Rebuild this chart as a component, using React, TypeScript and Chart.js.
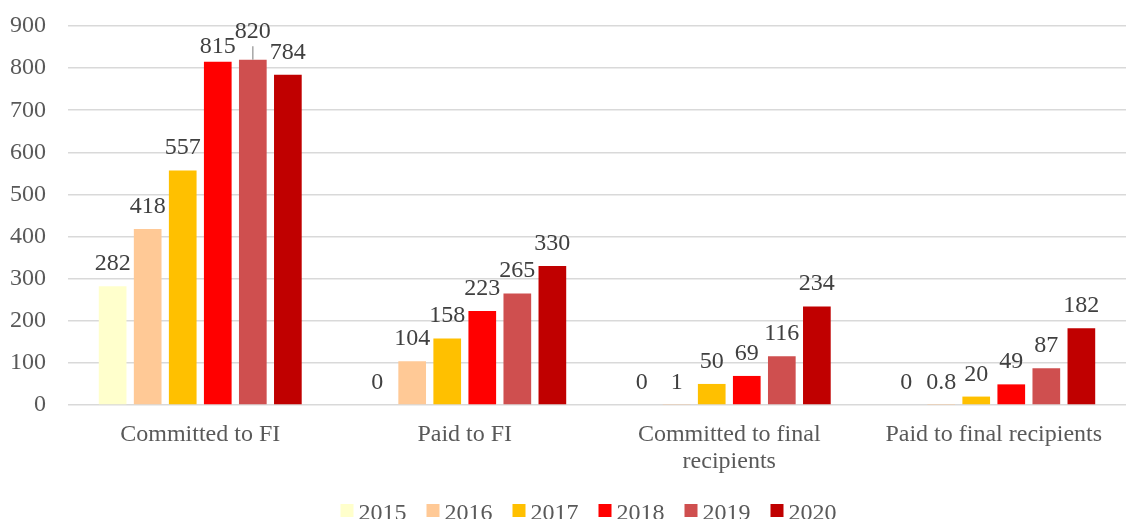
import React, { useEffect, useRef } from "react";
import { Chart, registerables } from "chart.js";

Chart.register(...registerables);

const categories: (string | string[])[] = [
  "Committed to FI",
  "Paid to FI",
  ["Committed to final", "recipients"],
  "Paid to final recipients",
];

const years = ["2015", "2016", "2017", "2018", "2019", "2020"];

const values2015 = [282, 0, 0, 0];
const values2016 = [418, 104, 1, 0.8];
const values2017 = [557, 158, 50, 20];
const values2018 = [815, 223, 69, 49];
const values2019 = [820, 265, 116, 87];
const values2020 = [784, 330, 234, 182];

const seriesValues = [values2015, values2016, values2017, values2018, values2019, values2020];
const seriesColors = ["#FFFFCC", "#FFC996", "#FFC000", "#FF0000", "#CF4F4F", "#C00000"];

const yTicks = [0, 100, 200, 300, 400, 500, 600, 700, 800, 900];

const FONT = "'Liberation Serif', 'Times New Roman', serif";

const valueLabelPlugin = {
  id: "valueLabels",
  afterDatasetsDraw(chart: any, _args: any, opts: any) {
    const ctx = chart.ctx;
    ctx.save();
    ctx.font = `${opts.size}px ${FONT}`;
    ctx.fillStyle = opts.color;
    ctx.textAlign = "center";
    ctx.textBaseline = "alphabetic";
    chart.data.datasets.forEach((ds: any, di: number) => {
      const meta = chart.getDatasetMeta(di);
      meta.data.forEach((bar: any, i: number) => {
        const v = ds.data[i];
        const adj = (opts.adjust || []).find((a: any) => a.datasetIndex === di && a.index === i);
        const extra = adj ? adj.extra : 0;
        const y = bar.y - opts.gap - extra;
        ctx.fillText(String(v), bar.x, y);
        if (adj && adj.leader) {
          ctx.save();
          ctx.strokeStyle = "#A6A6A6";
          ctx.lineWidth = 1.5;
          ctx.beginPath();
          ctx.moveTo(bar.x, y + 8);
          ctx.lineTo(bar.x, bar.y);
          ctx.stroke();
          ctx.restore();
        }
      });
    });
    ctx.restore();
  },
};

// shifts the legend sideways and paints its colour boxes closer to the text
const legendTweakPlugin = {
  id: "legendTweak",
  afterLayout(chart: any, _args: any, opts: any) {
    const l = chart.legend;
    if (l) {
      l.left += opts.dx;
      l.right += opts.dx;
    }
  },
  afterDraw(chart: any, _args: any, opts: any) {
    const l = chart.legend;
    if (!l || !l.legendHitBoxes) return;
    const ctx = chart.ctx;
    ctx.save();
    l.legendHitBoxes.forEach((hb: any, i: number) => {
      const ds = chart.data.datasets[i];
      ctx.fillStyle = ds.backgroundColor;
      ctx.fillRect(hb.left + opts.boxX, hb.top + hb.height / 2 - opts.box / 2 + opts.boxDy, opts.box, opts.box);
    });
    ctx.restore();
  },
};

export default function App() {
  const ref = useRef<HTMLCanvasElement | null>(null);

  useEffect(() => {
    if (!ref.current) return;
    const chart = new Chart(ref.current, {
      type: "bar",
      data: {
        labels: categories,
        datasets: years.map((y, i) => ({
          label: y,
          data: seriesValues[i],
          backgroundColor: seriesColors[i],
          borderWidth: 0,
          categoryPercentage: 0.795,
          barPercentage: 0.79,
        })),
      },
      options: {
        responsive: false,
        animation: false,
        layout: { padding: { top: 26, right: -11, bottom: -16.5, left: 0 } },
        plugins: {
          tooltip: { enabled: false },
          legend: {
            position: "bottom",
            labels: {
              boxWidth: 13,
              boxHeight: 13,
              padding: 13,
              color: "#595959",
              font: { size: 24, family: FONT },
              generateLabels: (chart: any) =>
                Chart.defaults.plugins.legend.labels.generateLabels(chart).map((it: any) => ({
                  ...it,
                  fillStyle: "rgba(0,0,0,0)",
                  strokeStyle: "rgba(0,0,0,0)",
                  lineWidth: 0,
                })),
            },
          },
          valueLabels: {
            size: 24,
            color: "#404040",
            gap: 16,
            adjust: [
              { datasetIndex: 4, index: 0, extra: 5.5, leader: true },
              { datasetIndex: 3, index: 0, extra: -7, leader: false },
            ],
          },
          legendTweak: { dx: 16.5, boxX: 7, box: 13, boxDy: -3 },
        } as any,
        scales: {
          x: {
            grid: { display: false, drawTicks: false },
            border: { display: false },
            ticks: {
              color: "#595959",
              font: { size: 24, family: FONT, lineHeight: 1.1 },
              padding: 17,
              maxRotation: 0,
              autoSkip: false,
            },
            afterFit: (scale: any) => {
              scale.height = 83.5;
            },
          },
          y: {
            min: yTicks[0],
            max: yTicks[yTicks.length - 1],
            afterBuildTicks: (scale: any) => {
              scale.ticks = yTicks.map((v) => ({ value: v }));
            },
            grid: {
              color: "#D9D9D9",
              lineWidth: 1.5,
              drawTicks: true,
              tickLength: 22,
              tickColor: "rgba(0,0,0,0)",
            },
            border: { display: false },
            ticks: {
              color: "#595959",
              font: { size: 24, family: FONT },
              padding: 0,
            },
            afterFit: (scale: any) => {
              scale.width = 68;
            },
          },
        },
      },
      plugins: [valueLabelPlugin, legendTweakPlugin],
    });
    return () => chart.destroy();
  }, []);

  return (
    <div style={{ position: "absolute", left: 0, top: 0, width: 1126, height: 519, background: "#fff" }}>
      <canvas ref={ref} width={1126} height={519} style={{ display: "block" }} />
    </div>
  );
}
